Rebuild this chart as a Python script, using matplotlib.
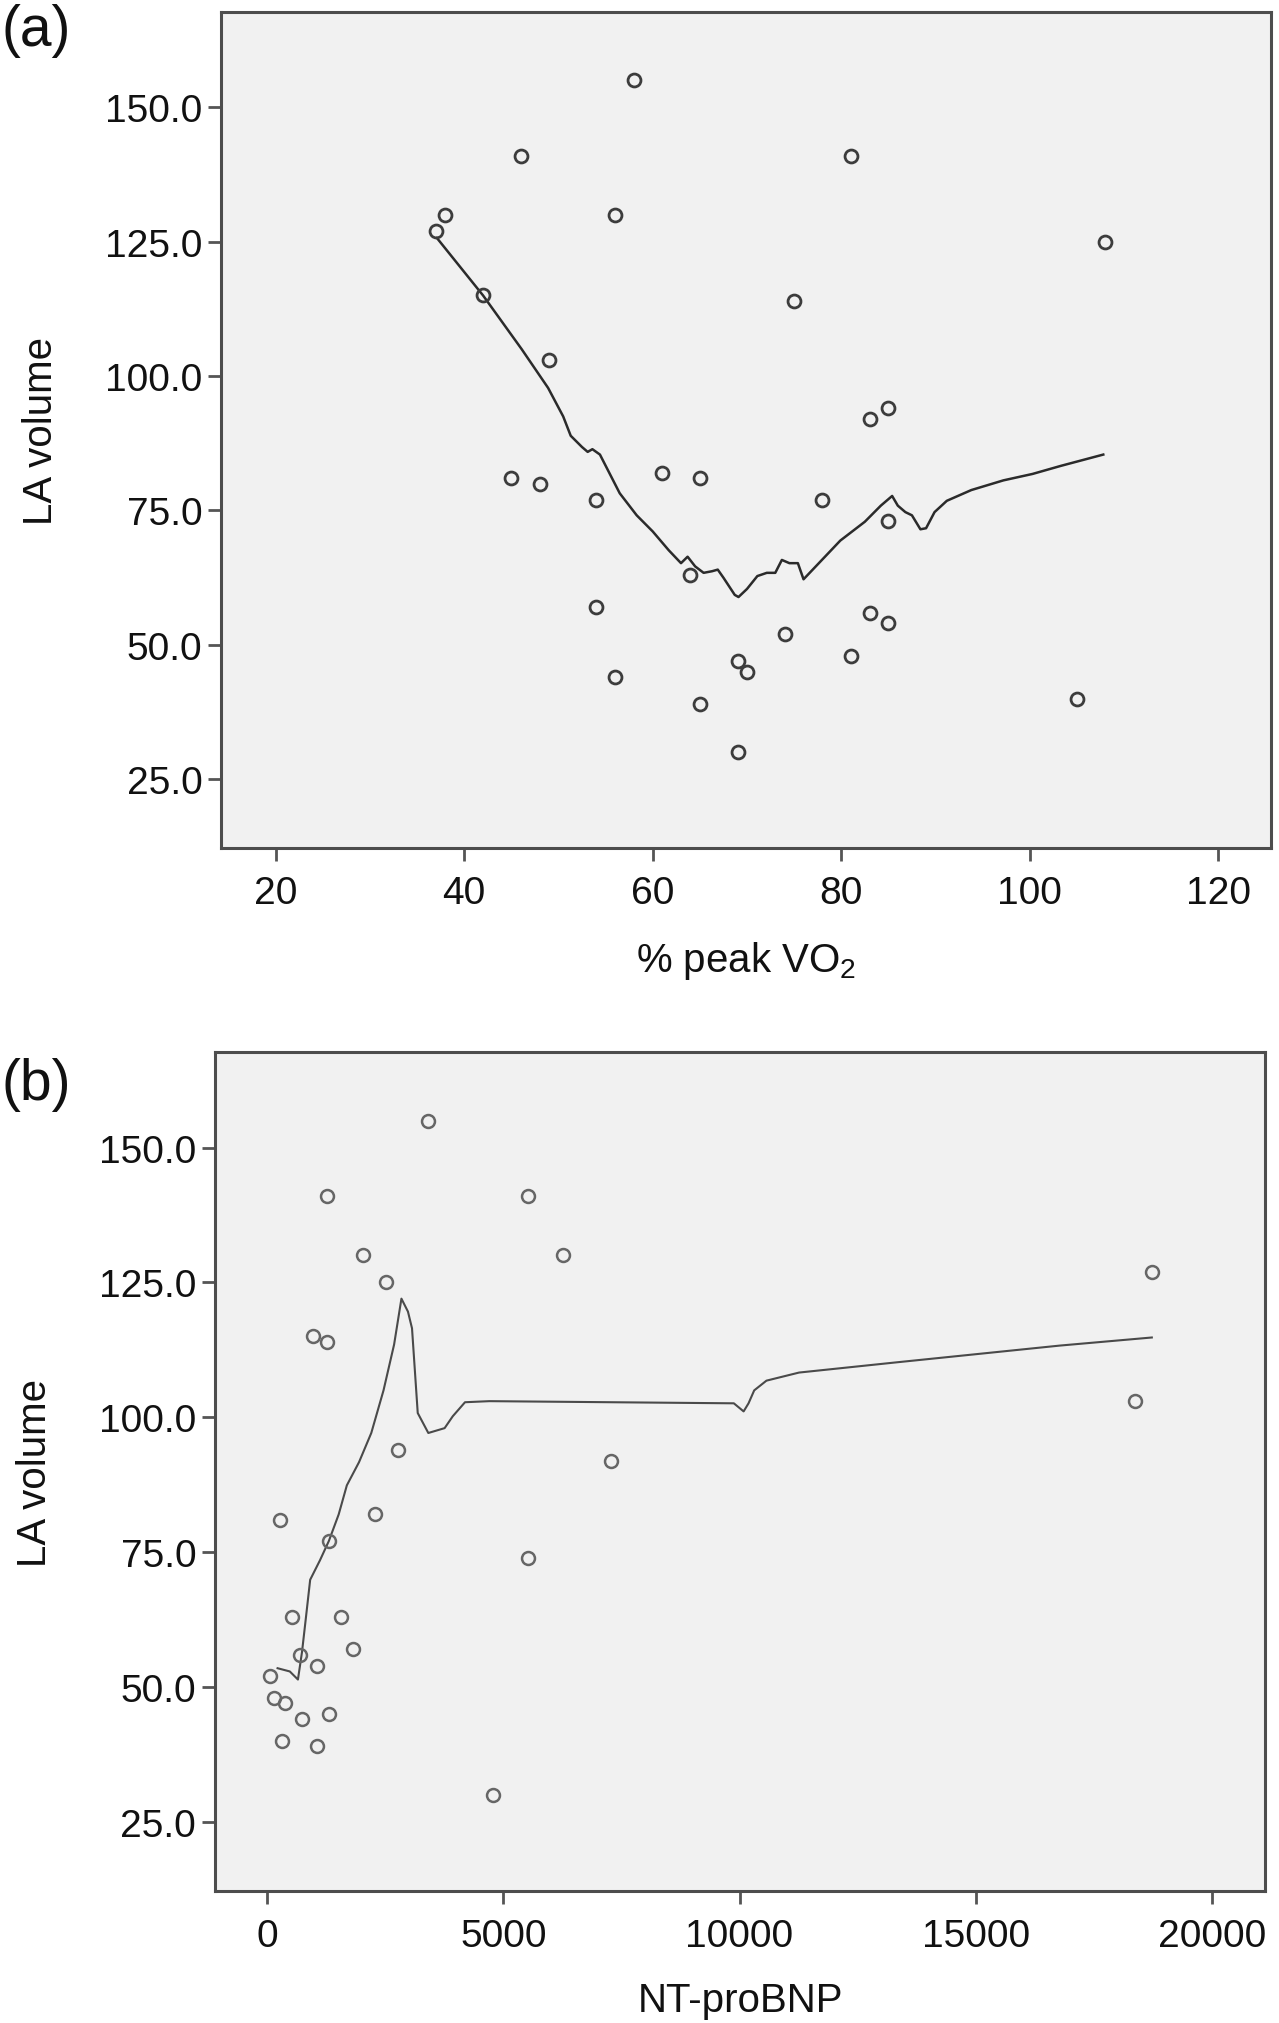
import numpy as np
import matplotlib
matplotlib.use('Agg')
import matplotlib.pyplot as plt

plt.rcParams['font.family'] = ['Liberation Sans', 'DejaVu Sans']
plt.rcParams['mathtext.default'] = 'regular'

# panel (a): % peak VO2 vs LA volume
vo2_x = [37, 38, 42, 46, 49, 45, 48, 54, 54, 56, 56, 58, 61, 64, 65, 65,
         69, 70, 69, 74, 75, 78, 81, 81, 83, 83, 85, 85, 85, 105, 108]
vo2_la = [127, 130, 115, 141, 103, 81, 80, 77, 57, 44, 130, 155, 82, 63, 81, 39,
          47, 45, 30, 52, 114, 77, 141, 48, 92, 56, 94, 73, 54, 40, 125]

# loess fit line (a)
fit_a_x = [37.1, 42.0, 46.1, 48.9, 50.5, 51.3, 52.5, 53.1, 53.6, 54.4, 56.5, 58.3, 60.0,
           61.7, 63.0, 63.7, 64.5, 65.4, 66.3, 66.9, 67.5, 68.7, 69.1, 70.0, 71.1,
           72.1, 73.0, 73.7, 74.5, 75.4, 76.0, 77.3, 79.9, 82.5, 84.2, 85.4, 86.0,
           86.8, 87.5, 88.4, 89.0, 89.9, 91.2, 93.8, 97.2, 100.3, 103.3, 107.8]
fit_a_y = [125.7, 115.0, 105.0, 97.8, 92.5, 88.9, 86.8, 85.9, 86.4, 85.4, 78.2, 74.1, 71.1,
           67.6, 65.2, 66.4, 64.6, 63.4, 63.7, 64.0, 62.5, 59.3, 58.9, 60.4, 62.8,
           63.4, 63.4, 65.8, 65.2, 65.2, 62.2, 64.6, 69.4, 72.9, 75.9, 77.7, 75.9,
           74.7, 74.1, 71.5, 71.7, 74.7, 76.8, 78.8, 80.6, 81.8, 83.3, 85.4]

# panel (b): NT-proBNP vs LA volume
bnp_x = [70, 140, 380, 310, 280, 520, 690, 740, 1050, 1050, 980, 1280, 1280, 1310,
         1310, 1570, 1810, 2030, 2290, 2520, 2780, 3400, 4790, 5530, 5530, 6260,
         7290, 18360, 18720]
bnp_la = [52, 48, 47, 40, 81, 63, 56, 44, 54, 39, 115, 114, 141, 77,
          45, 63, 57, 130, 82, 125, 94, 155, 30, 141, 74, 130,
          92, 103, 127]

fit_b_x = [224, 483, 655, 741, 828, 914, 1121, 1310, 1517, 1690, 1948, 2207, 2466, 2690,
           2845, 2983, 3069, 3190, 3414, 3759, 3931, 4190, 4707, 9879, 10086, 10190,
           10310, 10569, 11259, 13328, 16776, 18724]
fit_b_y = [53.5, 52.9, 51.4, 56.5, 63.2, 69.9, 73.5, 77.1, 82.0, 87.4, 91.7, 97.1, 105.0, 113.5,
           122.0, 119.6, 116.5, 100.8, 97.1, 98.0, 100.2, 102.8, 103.0, 102.6, 101.1, 102.6,
           105.0, 106.8, 108.3, 110.2, 113.3, 114.8]

yticks = [25, 50, 75, 100, 125, 150]

fig = plt.figure(figsize=(12.79, 20.24), dpi=100)
ax_a = fig.add_axes([0.1728, 0.5805, 0.821, 0.413])
ax_b = fig.add_axes([0.1681, 0.0652, 0.821, 0.4145])

frame_col = '#4d4d4d'


def style_axes(ax):
    ax.set_facecolor('#f1f1f1')
    for s in ax.spines.values():
        s.set_color(frame_col)
        s.set_linewidth(2.2)
    ax.tick_params(axis='both', direction='out', length=9.5, width=2.0,
                   color='#555555', labelsize=28, labelcolor='#111111')
    ax.tick_params(axis='x', pad=10)
    ax.tick_params(axis='y', pad=4)
    ax.set_yticks(yticks)
    ax.set_yticklabels(['%.1f' % v for v in yticks])
    ax.set_ylim(12.2, 167.7)
    ax.set_ylabel('LA volume', fontsize=29, color='#111111', labelpad=32)


style_axes(ax_a)
ax_a.plot(fit_a_x, fit_a_y, color='#2b2b2b', linewidth=1.8)
ax_a.plot(vo2_x, vo2_la, linestyle='none', marker='o', markersize=9.3,
          markerfacecolor='none', markeredgecolor='#3c3c3c', markeredgewidth=2.0)
ax_a.set_xlim(14.2, 125.6)
ax_a.set_xticks([20, 40, 60, 80, 100, 120])
ax_a.set_xlabel('% peak VO$_2$', fontsize=29, color='#111111', labelpad=20)

style_axes(ax_b)
ax_b.plot(fit_b_x, fit_b_y, color='#4a4a4a', linewidth=1.5)
ax_b.plot(bnp_x, bnp_la, linestyle='none', marker='o', markersize=9.3,
          markerfacecolor='none', markeredgecolor='#666666', markeredgewidth=1.8)
ax_b.set_xlim(-1100, 21120)
ax_b.set_xticks([0, 5000, 10000, 15000, 20000])
ax_b.set_xlabel('NT-proBNP', fontsize=29, color='#111111', labelpad=19)

fig.text(0.001, 1 - 4 / 2024, '(a)', fontsize=41, color='#111111', ha='left', va='top')
fig.text(0.001, 1 - 1058 / 2024, '(b)', fontsize=41, color='#111111', ha='left', va='top')

fig.savefig('out.png', dpi=100, facecolor='white')
